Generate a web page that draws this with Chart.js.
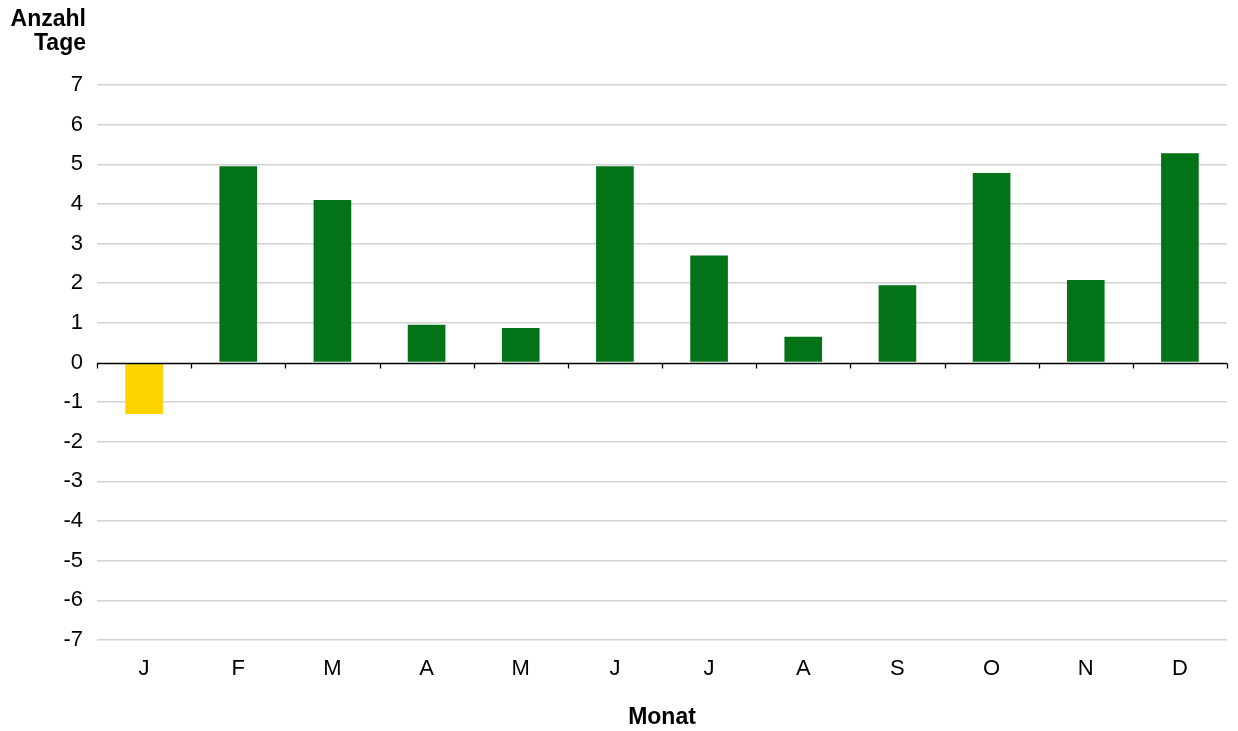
<!DOCTYPE html>
<html>
<head>
<meta charset="utf-8">
<script src="https://cdn.jsdelivr.net/npm/chart.js@4/dist/chart.umd.min.js"></script>
<style>
  html, body { margin: 0; padding: 0; background: #fff; }
  #wrap { width: 1238px; height: 731px; }
</style>
</head>
<body>
<div id="wrap"><canvas id="tageChart"></canvas></div>
<script>
const monate = ['J', 'F', 'M', 'A', 'M', 'J', 'J', 'A', 'S', 'O', 'N', 'D'];
const abweichung = [-1.3, 4.95, 4.1, 0.95, 0.87, 4.95, 2.7, 0.65, 1.95, 4.78, 2.08, 5.28];
const yTicks = [-7, -6, -5, -4, -3, -2, -1, 0, 1, 2, 3, 4, 5, 6, 7];

const GRUEN = '#037318';
const GELB = '#ffd300';
const FONT = 'Liberation Sans, Arial, Helvetica, sans-serif';

// Nulllinie mit Teilstrichen und Achsentitel links oben
const achsenPlugin = {
    id: 'achsen',
    afterDatasetsDraw(chart) {
        const { ctx, chartArea, scales } = chart;
        const y0 = Math.round(scales.y.getPixelForValue(0)) + 0.5;
        ctx.save();
        ctx.strokeStyle = '#000';
        ctx.lineWidth = 1.3;
        ctx.beginPath();
        ctx.moveTo(chartArea.left, y0);
        ctx.lineTo(chartArea.right, y0);
        const n = monate.length;
        for (let i = 0; i <= n; i++) {
            const x = Math.round(chartArea.left + (chartArea.right - chartArea.left) * i / n) + 0.5;
            ctx.moveTo(x, y0);
            ctx.lineTo(x, y0 + 5);
        }
        ctx.stroke();

        ctx.fillStyle = '#000';
        ctx.font = 'bold 23px ' + FONT;
        ctx.textAlign = 'right';
        ctx.textBaseline = 'alphabetic';
        ctx.fillText('Anzahl', 86, 26);
        ctx.fillText('Tage', 86, 50);
        ctx.restore();
    }
};

new Chart(document.getElementById('tageChart'), {
    type: 'bar',
    data: {
        labels: monate,
        datasets: [
            {
                label: 'Anzahl Tage',
                data: abweichung,
                backgroundColor: abweichung.map(v => (v < 0 ? GELB : GRUEN)),
                borderWidth: 0,
                barPercentage: 0.8,
                categoryPercentage: 0.5,
            },
        ],
    },
    options: {
        responsive: true,
        maintainAspectRatio: false,
        animation: false,
        layout: {
            padding: { top: 85, right: 11, left: 0, bottom: 0 },
        },
        plugins: {
            legend: { display: false },
            tooltip: { enabled: false },
        },
        scales: {
            x: {
                grid: { display: false, drawTicks: false },
                border: { display: false },
                ticks: {
                    color: '#000',
                    padding: 16,
                    font: { family: FONT, size: 22 },
                },
                title: {
                    display: true,
                    text: 'Monat',
                    color: '#000',
                    padding: { top: 19, bottom: 0 },
                    font: { family: FONT, size: 23, weight: 'bold' },
                },
                afterFit(scale) {
                    scale.height = 91;
                },
            },
            y: {
                min: -7,
                max: 7,
                afterBuildTicks(scale) {
                    scale.ticks = yTicks.map(v => ({ value: v }));
                },
                grid: {
                    drawTicks: false,
                    lineWidth: 1.5,
                    color: ctx => (ctx.tick && ctx.tick.value === 0 ? 'rgba(0,0,0,0)' : '#d2d2d2'),
                },
                border: { display: false },
                ticks: {
                    color: '#000',
                    padding: 14,
                    font: { family: FONT, size: 22 },
                },
                afterFit(scale) {
                    scale.width = 97;
                },
            },
        },
    },
    plugins: [achsenPlugin],
});
</script>
</body>
</html>
